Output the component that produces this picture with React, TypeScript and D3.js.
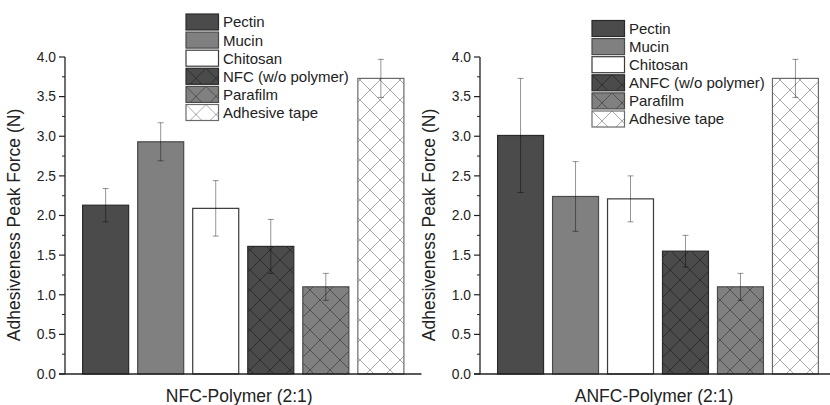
import * as d3 from 'd3'

const W = 830
const H = 405

const NFC_LABELS = ['Pectin', 'Mucin', 'Chitosan', 'NFC (w/o polymer)', 'Parafilm', 'Adhesive tape']
const ANFC_LABELS = ['Pectin', 'Mucin', 'Chitosan', 'ANFC (w/o polymer)', 'Parafilm', 'Adhesive tape']
const NFC_MEANS = [2.13, 2.93, 2.09, 1.61, 1.1, 3.73]
const NFC_ERR = [0.21, 0.24, 0.35, 0.34, 0.17, 0.24]
const ANFC_MEANS = [3.01, 2.24, 2.21, 1.55, 1.1, 3.73]
const ANFC_ERR = [0.72, 0.44, 0.29, 0.2, 0.17, 0.24]
const Y_TICKS = [0, 0.5, 1, 1.5, 2, 2.5, 3, 3.5, 4]

// fill / outline per bar position
const STYLES = [
  { fill: '#4b4b4b', stroke: '#2a2a2a' },
  { fill: '#808080', stroke: '#4a4a4a' },
  { fill: '#ffffff', stroke: '#3a3a3a' },
  { fill: 'url(#hatchDark)', stroke: '#2a2a2a' },
  { fill: 'url(#hatchGray)', stroke: '#4a4a4a' },
  { fill: 'url(#hatchWhite)', stroke: '#6a6a6a' },
]

const FONT = 'Liberation Sans, Arial, sans-serif'
const HP = 20 // hatch period

function Panel({
  labels,
  means,
  errs,
  x0,
  x1,
  title,
  legendX,
  legendY,
}: {
  labels: string[]
  means: number[]
  errs: number[]
  x0: number
  x1: number
  title: string
  legendX: number
  legendY: number
}) {
  const x = d3
    .scaleBand()
    .domain(labels)
    .range([x0, x1])
    .paddingInner(0.164)
    .paddingOuter(0.32)
  const y = d3.scaleLinear().domain([0, 4]).range([374, 57])
  const minor = d3.range(0.25, 4, 0.5)

  return (
    <g fontFamily={FONT}>
      {labels.map((l, i) => {
        const bx = x(l) ?? 0
        const cx = bx + x.bandwidth() / 2
        const top = y(means[i] + errs[i])
        const bot = y(means[i] - errs[i])
        return (
          <g key={l}>
            <rect
              x={bx}
              y={y(means[i])}
              width={x.bandwidth()}
              height={y(0) - y(means[i])}
              fill={STYLES[i].fill}
              stroke={STYLES[i].stroke}
              strokeWidth={1.2}
            />
            <g stroke="#000" strokeOpacity={0.42} strokeWidth={1}>
              <line x1={cx} x2={cx} y1={top} y2={bot} />
              <line x1={cx - 3} x2={cx + 3} y1={top} y2={top} />
              <line x1={cx - 3} x2={cx + 3} y1={bot} y2={bot} />
            </g>
          </g>
        )
      })}
      {/* axes */}
      <line x1={x0} x2={x0} y1={y(4)} y2={y(0)} stroke="#222" strokeWidth={1.3} />
      <line x1={x0 - 6} x2={x1} y1={y(0)} y2={y(0)} stroke="#222" strokeWidth={1.3} />
      {Y_TICKS.map((t) => (
        <g key={t}>
          <line x1={x0 - 6} x2={x0} y1={y(t)} y2={y(t)} stroke="#222" strokeWidth={1.2} />
          <text x={x0 - 9} y={y(t)} dy="0.35em" textAnchor="end" fontSize={13.8} fill="#222">
            {d3.format('.1f')(t)}
          </text>
        </g>
      ))}
      {minor.map((t) => (
        <line key={t} x1={x0 - 3} x2={x0} y1={y(t)} y2={y(t)} stroke="#222" strokeWidth={1} />
      ))}
      <text
        transform={`translate(${x0 - 45},225) rotate(-90)`}
        textAnchor="middle"
        fontSize={17.5}
        fill="#222"
      >
        Adhesiveness Peak Force (N)
      </text>
      <text x={(x0 + x1) / 2 - 4} y={402} textAnchor="middle" fontSize={17.5} fill="#222">
        {title}
      </text>
      {/* legend */}
      {labels.map((l, i) => (
        <g key={'lg' + l} transform={`translate(${legendX},${legendY + i * 18.1})`}>
          <rect
            x={0}
            y={0}
            width={32.5}
            height={16}
            fill={STYLES[i].fill}
            stroke={STYLES[i].stroke}
            strokeWidth={1.2}
          />
          <text x={37} y={8} dy="0.36em" fontSize={15} fill="#222">
            {l}
          </text>
        </g>
      ))}
    </g>
  )
}

export default function App() {
  const cross = `M0,0L${HP},${HP}M${HP},0L0,${HP}`
  return (
    <div style={{ position: 'absolute', left: 0, top: 0 }}>
      <svg width={W} height={H} style={{ display: 'block', background: '#fff' }}>
        <defs>
          <pattern id="hatchDark" patternUnits="userSpaceOnUse" width={HP} height={HP}>
            <rect width={HP} height={HP} fill="#4b4b4b" />
            <path d={cross} stroke="#2e2e2e" strokeWidth={1} />
          </pattern>
          <pattern id="hatchGray" patternUnits="userSpaceOnUse" width={HP} height={HP}>
            <rect width={HP} height={HP} fill="#808080" />
            <path d={cross} stroke="#505050" strokeWidth={1} />
          </pattern>
          <pattern id="hatchWhite" patternUnits="userSpaceOnUse" width={HP} height={HP}>
            <rect width={HP} height={HP} fill="#fff" />
            <path d={cross} stroke="#a8a8a8" strokeWidth={1} />
          </pattern>
        </defs>
        <Panel
          labels={NFC_LABELS}
          means={NFC_MEANS}
          errs={NFC_ERR}
          x0={65}
          x1={421.5}
          title="NFC-Polymer (2:1)"
          legendX={186}
          legendY={14}
        />
        <Panel
          labels={ANFC_LABELS}
          means={ANFC_MEANS}
          errs={ANFC_ERR}
          x0={480}
          x1={836}
          title="ANFC-Polymer (2:1)"
          legendX={592}
          legendY={20.5}
        />
      </svg>
    </div>
  )
}
